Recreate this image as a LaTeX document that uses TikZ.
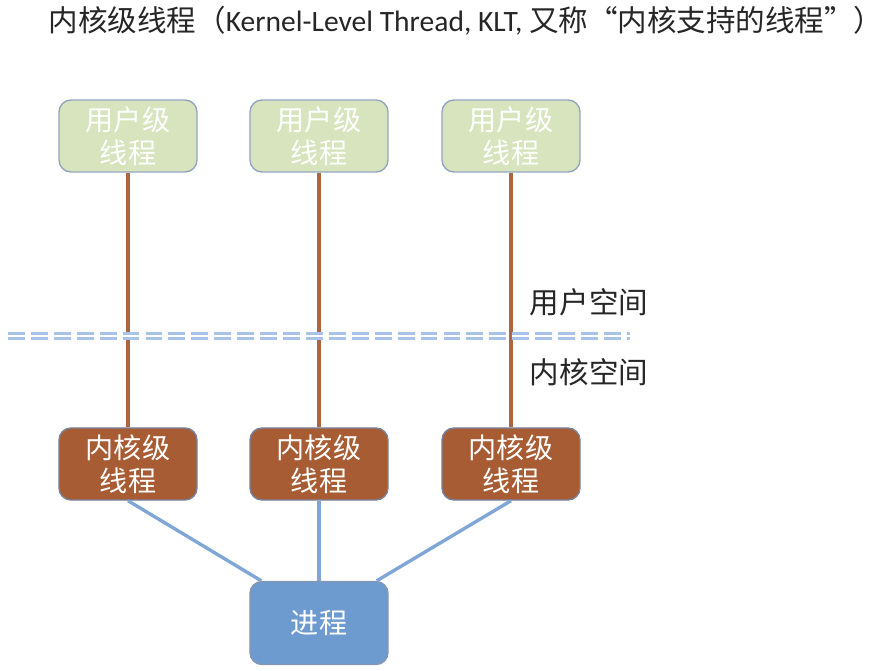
\documentclass[tikz,border=0pt]{standalone}
\usepackage{fontspec}
\setmainfont{Carlito}
\newfontfamily\cjk{Noto Sans CJK SC}
\usetikzlibrary{calc,positioning}
\definecolor{usrfill}{HTML}{D7E4BD}
\definecolor{usrdraw}{HTML}{93A7C0}
\definecolor{krnfill}{HTML}{A85C33}
\definecolor{krndraw}{HTML}{7A819C}
\definecolor{procfill}{HTML}{6E9BCF}
\definecolor{procdraw}{HTML}{8597AF}
\definecolor{tiebrown}{HTML}{AD6440}
\definecolor{tieblue}{HTML}{7FA6D5}
\definecolor{border}{HTML}{A8C3E6}

\begin{document}
\begin{tikzpicture}[
    x=0.025cm, y=-0.025cm,
    box/.style={rectangle, rounded corners=0.3cm, line width=1pt,
                minimum width=3.45cm, minimum height=1.8cm, inner sep=0pt,
                align=center, text=white,
                font=\cjk\fontsize{20}{23.5}\selectfont},
    ulthread/.style={box, fill=usrfill, draw=usrdraw},
    klthread/.style={box, fill=krnfill, draw=krndraw},
    proc/.style={box, fill=procfill, draw=procdraw, minimum height=2.075cm},
    utie/.style={line width=2.3pt, tiebrown},
    ktie/.style={line width=2.4pt, tieblue},
    spacelabel/.style={font=\cjk\fontsize{21}{24}\selectfont, text=black!85},
]
\useasboundingbox (0,0) rectangle (892,670);

% ── Title ──
\node[font=\fontsize{21}{25}\selectfont, text=black!85] (title) at (466,21)
    {{\cjk 内核级线程（}Kernel-Level Thread, KLT, {\cjk 又称“内核支持的线程”）}};

% ── Threads: user level on top, kernel level below ──
\foreach \i/\x in {1/128, 2/319, 3/511} {
    \node[ulthread] (u\i) at (\x,136) {用户级\\线程};
    \node[klthread] (k\i) at (\x,464) {内核级\\线程};
    \draw[utie] (u\i) -- (k\i);
}

% ── Process ──
\node[proc] (p) at (319,623) {进程};
\draw[ktie] (k1.south) -- ([xshift=0.3cm]p.north west);
\draw[ktie] (k2.south) -- (p.north);
\draw[ktie] (k3.south) -- ([xshift=-0.3cm]p.north east);

% ── User / kernel boundary ──
\coordinate (bl) at (8,336);
\coordinate (br) at (630,336);
\draw[border, line width=2.2pt, double=white, double distance=1.6pt,
      dash pattern=on 12pt off 4.3pt] (bl) -- (br);
\node[spacelabel] (us) at (589,302) {用户空间};
\node[spacelabel] (ks) at (589,372) {内核空间};
\end{tikzpicture}
\end{document}
